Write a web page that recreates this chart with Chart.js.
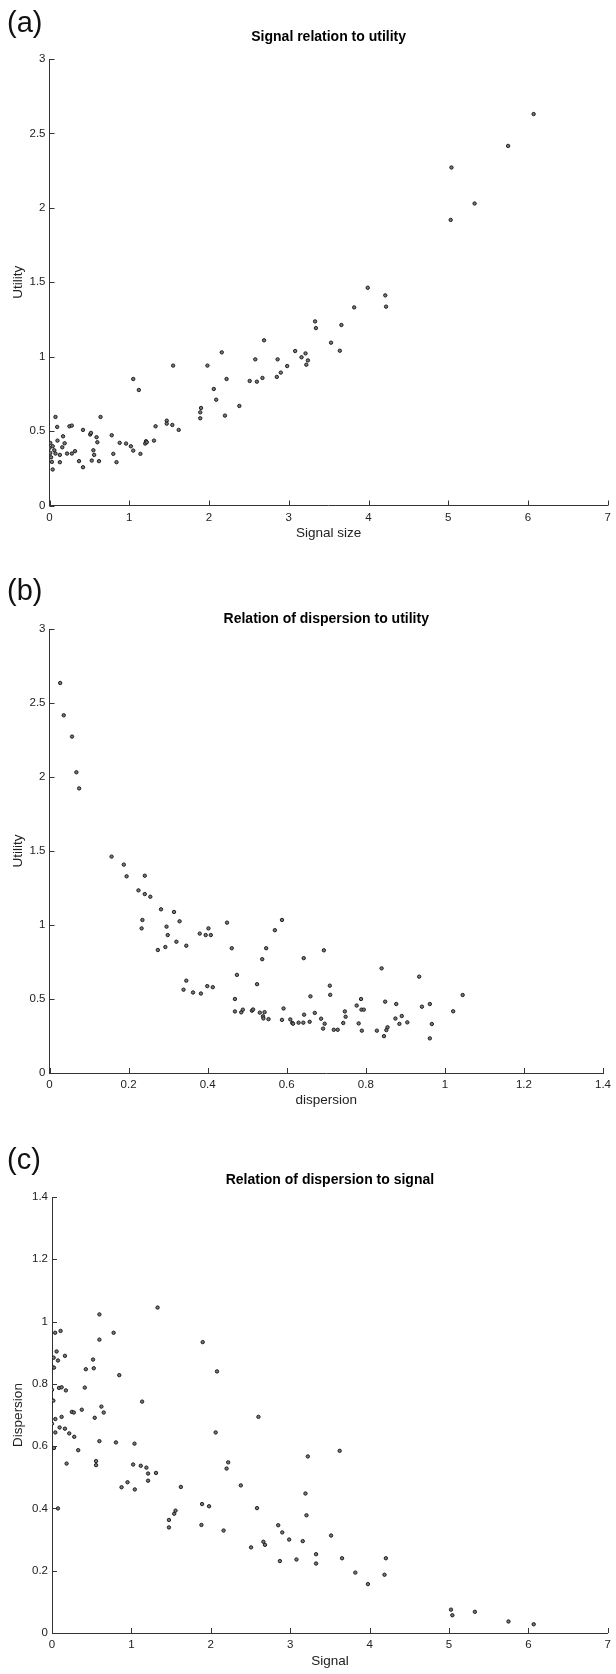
<!DOCTYPE html>
<html>
<head>
<meta charset="utf-8">
<title>Signal, dispersion and utility</title>
<script src="https://cdn.jsdelivr.net/npm/chart.js@4.4.1/dist/chart.umd.min.js"></script>
<style>
  html, body { margin: 0; padding: 0; background: #fff; }
  #page { position: relative; width: 616px; height: 1674px; overflow: hidden;
          font-family: "Liberation Sans", Arial, Helvetica, sans-serif; }
  .panel { position: absolute; left: 0; width: 616px; }
  .panel canvas { display: block; }
  .tag { position: absolute; left: 7px; font-size: 29px; line-height: 29px; color: #111; z-index: 2; }
</style>
</head>
<body>
<div id="page">
  <div class="panel" style="top:0px"><canvas id="chartA" width="616" height="545"></canvas></div>
  <div class="panel" style="top:560px"><canvas id="chartB" width="616" height="553"></canvas></div>
  <div class="panel" style="top:1120px"><canvas id="chartC" width="616" height="554"></canvas></div>
  <div class="tag" style="top:8px">(a)</div>
  <div class="tag" style="top:576px">(b)</div>
  <div class="tag" style="top:1145px">(c)</div>
</div>

<script>
// --- tick labels
const signalTicks = [0, 1, 2, 3, 4, 5, 6, 7];
const utilityTicks = [0, 0.5, 1, 1.5, 2, 2.5, 3];
const dispersionTicks = [0, 0.2, 0.4, 0.6, 0.8, 1, 1.2, 1.4];

// --- (a) signal size vs utility
const signalA = [
  0.075, 0.096, 0.01, 0, 0.01, 0.02, 0.03, 0.04, 0.04, 0.06,
  0.075, 0.10, 0.13, 0.13, 0.16, 0.17, 0.19, 0.22, 0.25, 0.28,
  0.28, 0.32, 0.37, 0.42, 0.42, 0.51, 0.52, 0.53, 0.55, 0.56,
  0.59, 0.60, 0.62, 0.64, 0.78, 0.80, 0.84, 0.88, 0.96, 1.02,
  1.05, 1.05, 1.12, 1.14, 1.20, 1.21, 1.22, 1.31, 1.33, 1.47,
  1.47, 1.54, 1.55, 1.62, 1.89, 1.89, 1.90, 1.98, 2.06, 2.09,
  2.16, 2.20, 2.22, 2.38, 2.51, 2.60, 2.67, 2.58, 2.69, 2.86,
  2.85, 2.90, 2.98, 3.08, 3.16, 3.21, 3.24, 3.22, 3.33, 3.34,
  3.53, 3.64, 3.66, 3.82, 3.99, 4.21, 4.22, 5.03, 5.04, 5.33,
  5.75, 6.07
];
const utilityA = [
  0.595, 0.528, 0.42, 0.387, 0.353, 0.324, 0.293, 0.242, 0.398, 0.371,
  0.349, 0.436, 0.34, 0.291, 0.391, 0.465, 0.418, 0.349, 0.532, 0.537,
  0.349, 0.365, 0.298, 0.508, 0.257, 0.477, 0.488, 0.302, 0.371, 0.34,
  0.459, 0.425, 0.298, 0.595, 0.472, 0.347, 0.291, 0.421, 0.416, 0.398,
  0.85, 0.369, 0.776, 0.347, 0.416, 0.432, 0.425, 0.436, 0.532, 0.57,
  0.55, 0.541, 0.94, 0.508, 0.586, 0.626, 0.655, 0.94, 0.783, 0.711,
  1.029, 0.604, 0.85, 0.669, 0.837, 0.832, 0.857, 0.982, 1.11, 0.982,
  0.864, 0.893, 0.937, 1.038, 0.996, 1.022, 0.975, 0.946, 1.237, 1.192,
  1.094, 1.04, 1.213, 1.331, 1.463, 1.412, 1.336, 1.919, 2.271, 2.029,
  2.416, 2.63
];

// --- (b) dispersion vs utility
const dispersionB = [
  0.027, 0.036, 0.057, 0.068, 0.075, 0.157, 0.188, 0.195, 0.225, 0.241,
  0.241, 0.255, 0.235, 0.233, 0.282, 0.315, 0.329, 0.296, 0.299, 0.274,
  0.293, 0.321, 0.346, 0.380, 0.395, 0.402, 0.408, 0.449, 0.461, 0.474,
  0.469, 0.469, 0.346, 0.339, 0.363, 0.383, 0.399, 0.413, 0.485, 0.489,
  0.512, 0.515, 0.525, 0.532, 0.538, 0.544, 0.540, 0.541, 0.548, 0.554,
  0.570, 0.588, 0.588, 0.592, 0.609, 0.614, 0.616, 0.630, 0.642, 0.643,
  0.644, 0.658, 0.660, 0.671, 0.687, 0.692, 0.696, 0.694, 0.709, 0.710,
  0.719, 0.729, 0.743, 0.747, 0.749, 0.777, 0.782, 0.788, 0.789, 0.795,
  0.790, 0.828, 0.840, 0.846, 0.849, 0.852, 0.855, 0.875, 0.877, 0.885,
  0.891, 0.905, 0.935, 0.942, 0.962, 0.962, 0.967, 1.021, 1.045
];
const utilityB = [
  2.635, 2.417, 2.273, 2.032, 1.923, 1.462, 1.408, 1.329, 1.234, 1.333,
  1.209, 1.191, 1.034, 0.977, 1.106, 1.088, 1.025, 0.989, 0.932, 0.831,
  0.851, 0.887, 0.86, 0.942, 0.932, 0.977, 0.932, 1.016, 0.843, 0.663,
  0.5, 0.416, 0.624, 0.563, 0.544, 0.537, 0.587, 0.58, 0.41, 0.428,
  0.421, 0.429, 0.6, 0.408, 0.769, 0.411, 0.383, 0.369, 0.843, 0.364,
  0.965, 1.034, 0.359, 0.436, 0.362, 0.338, 0.333, 0.34, 0.34, 0.776,
  0.394, 0.346, 0.518, 0.406, 0.367, 0.3, 0.333, 0.829, 0.59, 0.528,
  0.292, 0.292, 0.338, 0.416, 0.38, 0.456, 0.335, 0.5, 0.428, 0.428,
  0.286, 0.286, 0.707, 0.249, 0.482, 0.29, 0.309, 0.368, 0.466, 0.332,
  0.385, 0.342, 0.651, 0.448, 0.466, 0.234, 0.331, 0.417, 0.527
];

// --- (c) signal vs dispersion
const signalC = [
  1.33, 0.597, 0.776, 0.597, 0.04, 0.108, 0.058, 0.021, 0.075, 0.163,
  0, 0.025, 0.517, 0.426, 0.526, 0.847, 1.898, 2.078, 0, 0.088,
  0.121, 0.175, 0.413, 0, 0.017, 1.135, 0.622, 0.651, 0.25, 0.275,
  0.375, 0.538, 0.121, 0.042, 2.6, 0, 0.096, 0.163, 0.042, 0.217,
  0.28, 2.061, 0.597, 0.805, 1.039, 0.025, 0.33, 0.184, 0.555, 0.555,
  1.022, 1.118, 1.189, 1.21, 1.31, 1.21, 0.876, 0.951, 1.043, 1.623,
  2.199, 2.219, 2.378, 0.075, 1.473, 1.473, 1.539, 1.556, 1.89, 1.978,
  1.882, 2.161, 2.582, 2.507, 2.662, 2.683, 2.849, 2.9, 2.987, 2.87,
  3.079, 3.158, 3.222, 3.623, 3.192, 3.205, 3.515, 3.326, 3.326, 3.653,
  4.205, 3.82, 4.188, 3.979, 5.025, 5.042, 5.326, 5.749, 6.067
];
const dispersionC = [
  1.045, 1.023, 0.964, 0.942, 0.964, 0.97, 0.904, 0.884, 0.875, 0.89,
  0.855, 0.852, 0.878, 0.847, 0.85, 0.828, 0.934, 0.84, 0.781, 0.787,
  0.789, 0.779, 0.788, 0.747, 0.746, 0.743, 0.727, 0.708, 0.71, 0.708,
  0.717, 0.691, 0.694, 0.687, 0.694, 0.672, 0.66, 0.656, 0.644, 0.641,
  0.63, 0.644, 0.616, 0.612, 0.608, 0.594, 0.587, 0.544, 0.552, 0.539,
  0.541, 0.537, 0.531, 0.512, 0.514, 0.489, 0.468, 0.484, 0.461, 0.469,
  0.528, 0.548, 0.474, 0.4, 0.363, 0.339, 0.383, 0.393, 0.414, 0.407,
  0.347, 0.329, 0.401, 0.275, 0.293, 0.283, 0.346, 0.323, 0.3, 0.231,
  0.236, 0.295, 0.567, 0.585, 0.448, 0.378, 0.313, 0.253, 0.223, 0.24,
  0.24, 0.194, 0.187, 0.157, 0.075, 0.057, 0.068, 0.037, 0.028
];

const INK = '#222';
const FONT = '"Liberation Sans", Arial, Helvetica, sans-serif';

// small inward tick marks, like the original axes
const inwardTicks = {
  id: 'inwardTicks',
  afterDraw(chart) {
    const { ctx, chartArea: a, scales: { x, y } } = chart;
    ctx.save();
    ctx.strokeStyle = '#333';
    ctx.lineWidth = 1;
    ctx.beginPath();
    x.ticks.forEach(t => {
      const px = Math.round(x.getPixelForValue(t.value)) + 0.5;
      ctx.moveTo(px, a.bottom);
      ctx.lineTo(px, a.bottom - 5);
    });
    y.ticks.forEach(t => {
      const py = Math.round(y.getPixelForValue(t.value)) + 0.5;
      ctx.moveTo(a.left, py);
      ctx.lineTo(a.left + 5, py);
    });
    ctx.stroke();
    ctx.restore();
  }
};

function makeAxis(ticks, title, fit) {
  return {
    type: 'linear',
    min: ticks[0],
    max: ticks[ticks.length - 1],
    afterBuildTicks: s => { s.ticks = ticks.map(v => ({ value: v })); },
    afterFit: fit,
    grid: { display: true, drawOnChartArea: false, drawTicks: false },
    border: { display: true, color: '#333', width: 1 },
    ticks: {
      color: INK,
      font: { family: FONT, size: 11.5 },
      padding: 4,
      maxRotation: 0,
      autoSkip: false,
      callback: v => String(+v.toFixed(2))
    },
    title: { display: true, text: title, color: INK, font: { family: FONT, size: 13.5 } }
  };
}

function makeChart(id, p) {
  const points = p.xs.map((x, i) => ({ x: x, y: p.ys[i] }));
  const xAxis = makeAxis(p.xTicks, p.xTitle, s => { s.height = p.xAxisH; });
  xAxis.ticks.padding = 5;
  xAxis.title.padding = { top: 0, bottom: p.xTitlePad };
  const yAxis = makeAxis(p.yTicks, p.yTitle, s => { s.width = p.yAxisW; });
  yAxis.title.padding = { top: 10.4, bottom: 0 };

  return new Chart(document.getElementById(id), {
    type: 'scatter',
    data: {
      datasets: [{
        data: points,
        pointStyle: 'circle',
        pointRadius: 1.7,
        pointBorderWidth: 0.9,
        borderColor: '#111',
        backgroundColor: '#777'
      }]
    },
    options: {
      responsive: false,
      animation: false,
      devicePixelRatio: 1,
      layout: { padding: { top: 0, left: 0, right: 0, bottom: 0 } },
      plugins: {
        legend: { display: false },
        tooltip: { enabled: false },
        title: {
          display: true,
          text: p.title,
          fullSize: false,
          color: '#000',
          font: { family: FONT, size: 14, weight: 'bold' },
          padding: { top: p.titleTop, bottom: p.titleBottom }
        }
      },
      scales: { x: xAxis, y: yAxis }
    },
    plugins: [inwardTicks]
  });
}

makeChart('chartA', {
  xs: signalA, ys: utilityA,
  xTicks: signalTicks, yTicks: utilityTicks,
  title: 'Signal relation to utility', xTitle: 'Signal size', yTitle: 'Utility',
  titleTop: 28.6, titleBottom: 13.6, xAxisH: 39.5, xTitlePad: 3.9, yAxisW: 49.5
});

makeChart('chartB', {
  xs: dispersionB, ys: utilityB,
  xTicks: dispersionTicks, yTicks: utilityTicks,
  title: 'Relation of dispersion to utility', xTitle: 'dispersion', yTitle: 'Utility',
  titleTop: 50.6, titleBottom: 1.6, xAxisH: 40, xTitlePad: 4.9, yAxisW: 49.5
});

makeChart('chartC', {
  xs: signalC, ys: dispersionC,
  xTicks: signalTicks, yTicks: dispersionTicks,
  title: 'Relation of dispersion to signal', xTitle: 'Signal', yTitle: 'Dispersion',
  titleTop: 51.6, titleBottom: 8.6, xAxisH: 41, xTitlePad: 4.9, yAxisW: 52
});
</script>
</body>
</html>
